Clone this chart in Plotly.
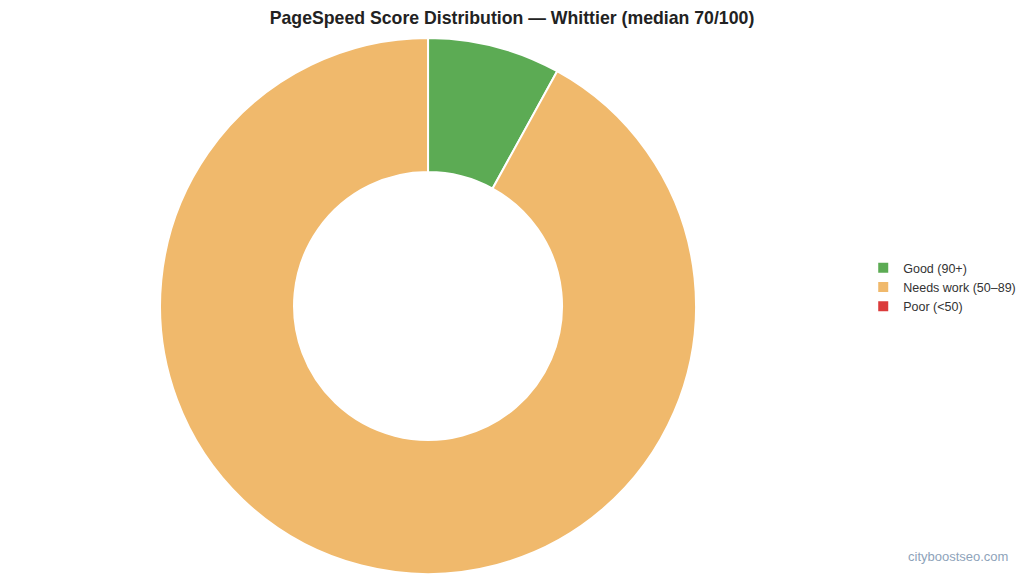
import plotly.graph_objects as go

labels = ["Good (90+)", "Needs work (50–89)", "Poor (<50)"]
counts = [2, 23, 0]
colors = ["#5cab54", "#f0b96c", "#db3b3b"]

fig = go.Figure()
fig.add_trace(go.Pie(
    labels=labels,
    values=counts,
    hole=0.5,
    sort=False,
    direction="clockwise",
    rotation=0,
    textinfo="none",
    marker=dict(colors=colors, line=dict(color="white", width=2)),
    domain=dict(x=[0, 0.836], y=[0, 1]),
))

fig.update_layout(
    width=1024, height=576,
    margin=dict(l=0, r=0, t=38, b=2),
    paper_bgcolor="white",
    font=dict(family="Liberation Sans, Arial, sans-serif", color="#333333", size=12),
    title=dict(text="<b>PageSpeed Score Distribution — Whittier (median 70/100)</b>",
               x=0.5, xanchor="center", y=0.969, yanchor="middle",
               font=dict(size=17.7, color="#222222")),
    legend=dict(x=0.843, xanchor="left", y=0.535, yanchor="middle",
                font=dict(size=12.5, color="#333333"), itemclick=False),
    showlegend=True,
)

fig.add_annotation(text="cityboostseo.com", xref="paper", yref="paper",
                   x=0.986, y=0.0, xanchor="right", yanchor="bottom",
                   yshift=8, showarrow=False,
                   font=dict(size=13, color="#8ea3ba"))

# page has a default 8px body margin; drop it so the figure sits at 0,0
fig.write_html("out.html", config={"displayModeBar": False},
               post_script="document.body.style.margin='0';")
